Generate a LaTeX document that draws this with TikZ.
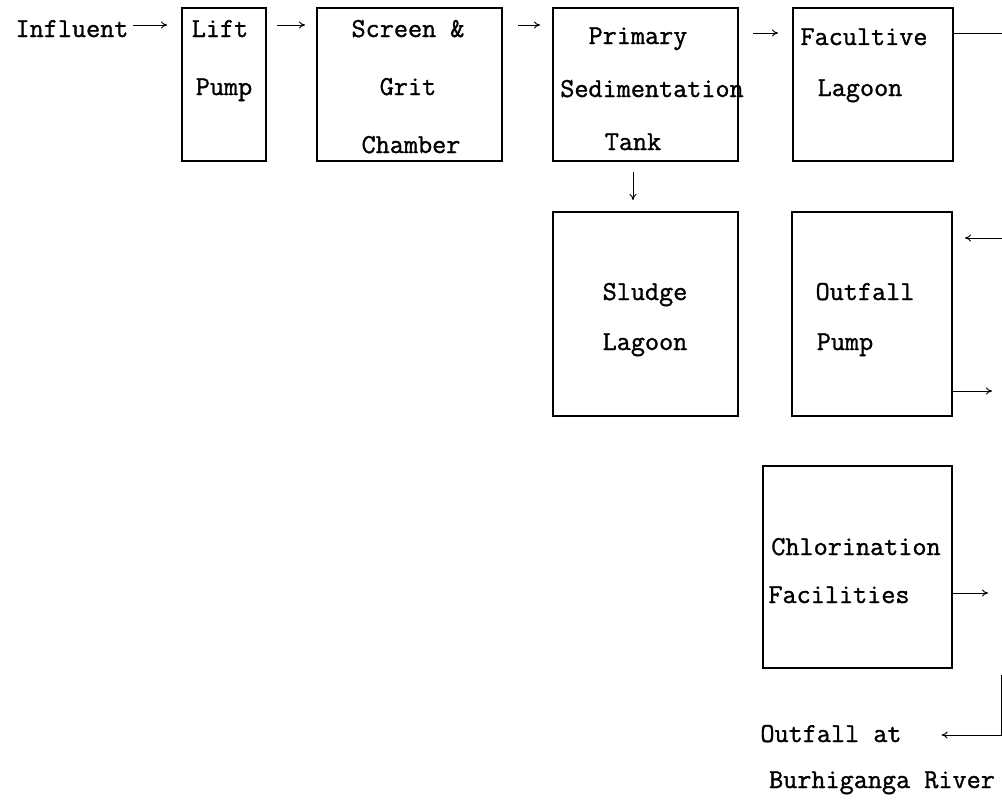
\documentclass[tikz,border=0pt]{standalone}
\usepackage{fontspec}
\newfontfamily\tfont{Latin Modern Mono}[FakeBold=1.2]
\usetikzlibrary{arrows.meta}
\begin{document}
\begin{tikzpicture}[x=1pt,y=-1pt,
  box/.style={draw, line width=1.3pt, inner sep=0pt, outer sep=0pt, anchor=north west},
  lbl/.style={inner sep=0pt, outer sep=0pt, anchor=base, font=\tfont\fontsize{27.4}{32}\selectfont},
  arr/.style={-{To[length=6pt,width=7pt]}, line width=1pt},
  ln/.style={line width=1pt}]
\useasboundingbox[fill=white] (0,0) rectangle (1002,811);
% boxes
\node[box, minimum width=84pt,  minimum height=153pt] (lift)    at (182,8) {};
\node[box, minimum width=185pt, minimum height=153pt] (screen)  at (317,8) {};
\node[box, minimum width=185pt, minimum height=153pt] (primary) at (553,8) {};
\node[box, minimum width=160pt, minimum height=153pt] (fac)     at (793,8) {};
\node[box, minimum width=185pt, minimum height=204pt] (sludge)  at (553,212) {};
\node[box, minimum width=160pt, minimum height=204pt] (pump)    at (792,212) {};
\node[box, minimum width=189pt, minimum height=202pt] (chlor)   at (763,466) {};
% texts
\node[lbl] (influent) at (72,37) {Influent};
\node[lbl] (liftA) at (220,37) {Lift};
\node[lbl] (liftB) at (224,95) {Pump};
\node[lbl] (scrA) at (408,37) {Screen \&};
\node[lbl] (scrB) at (408,95) {Grit};
\node[lbl] (scrC) at (411,153) {Chamber};
\node[lbl] (priA) at (638,44) {Primary};
\node[lbl] (priB) at (652,97) {Sedimentation};
\node[lbl] (priC) at (633,150) {Tank};
\node[lbl] (facA) at (864,45) {Facultive};
\node[lbl] (facB) at (860,96) {Lagoon};
\node[lbl] (sluA) at (645,300) {Sludge};
\node[lbl] (sluB) at (645,350) {Lagoon};
\node[lbl] (pmpA) at (865,300) {Outfall};
\node[lbl] (pmpB) at (845,350) {Pump};
\node[lbl] (chlA) at (856,555) {Chlorination};
\node[lbl] (chlB) at (839,603) {Facilities};
\node[lbl] (outA) at (831,742) {Outfall at};
\node[lbl] (outB) at (882,788) {Burhiganga River};
% helper coordinates
\coordinate (r1) at (0,25);
\coordinate (r2) at (0,33);
\coordinate (dx) at (633,0);
\coordinate (fr) at (1002,33);
\coordinate (in2) at (1002,238);
\coordinate (o1) at (992,391);
\coordinate (o2) at (988,593);
\coordinate (c1) at (1001,675);
\coordinate (c2) at (1001,735);
% connectors
\draw[arr, shorten <=5pt, shorten >=15pt] (influent.east |- r1) -- (lift.west |- r1);
\draw[arr, shorten <=11pt, shorten >=12pt] (lift.east |- r1) -- (screen.west |- r1);
\draw[arr, shorten <=16pt, shorten >=13pt] (screen.east |- r1) -- (primary.west |- r1);
\draw[arr, shorten <=15pt, shorten >=15pt] (primary.east |- r2) -- (fac.west |- r2);
\draw[ln] (fac.east |- r2) -- (fr);
\draw[arr, shorten <=11pt, shorten >=12pt] (primary.south -| dx) -- (sludge.north -| dx);
\draw[arr, shorten >=13pt] (in2) -- (pump.east |- in2);
\draw[arr] (pump.east |- o1) -- (o1);
\draw[arr] (chlor.east |- o2) -- (o2);
\draw[arr, shorten >=40pt] (c1) -- (c2) -- (outA.east |- c2);
\end{tikzpicture}
\end{document}
